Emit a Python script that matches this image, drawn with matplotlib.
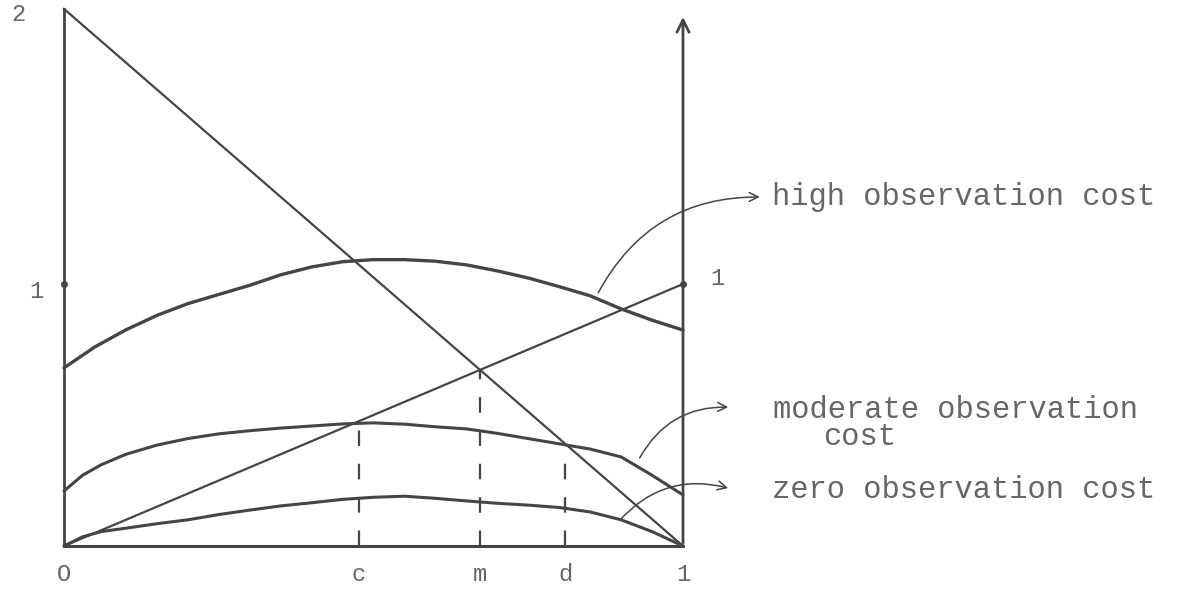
import numpy as np
import matplotlib
matplotlib.use('Agg')
import matplotlib.pyplot as plt

plt.rcParams['font.family'] = ['Liberation Mono', 'DejaVu Sans Mono']

# 曲线数据
x_high = [0.0, 0.05, 0.10, 0.15, 0.20, 0.25, 0.30, 0.35, 0.40, 0.45, 0.50,
          0.55, 0.60, 0.65, 0.70, 0.75, 0.80, 0.85, 0.90, 0.95, 1.0]
y_high = [0.68, 0.76, 0.825, 0.88, 0.925, 0.96, 0.995, 1.035, 1.065, 1.085, 1.093,
          1.093, 1.087, 1.073, 1.05, 1.023, 0.99, 0.955, 0.905, 0.862, 0.824]

x_mod = [0.0, 0.03, 0.06, 0.10, 0.15, 0.20, 0.25, 0.30, 0.35, 0.40, 0.45,
         0.50, 0.55, 0.60, 0.65, 0.70, 0.75, 0.80, 0.85, 0.90, 0.95, 1.0]
y_mod = [0.21, 0.27, 0.31, 0.35, 0.385, 0.41, 0.428, 0.44, 0.45, 0.458, 0.466,
         0.47, 0.465, 0.455, 0.447, 0.43, 0.41, 0.39, 0.37, 0.34, 0.27, 0.195]

x_zero = [0.0, 0.03, 0.06, 0.10, 0.15, 0.20, 0.25, 0.30, 0.35, 0.40, 0.45,
          0.50, 0.55, 0.60, 0.65, 0.70, 0.75, 0.80, 0.85, 0.90, 0.95, 1.0]
y_zero = [0.0, 0.035, 0.055, 0.068, 0.085, 0.10, 0.12, 0.137, 0.153, 0.165, 0.178,
          0.186, 0.19, 0.182, 0.172, 0.163, 0.156, 0.147, 0.13, 0.10, 0.055, 0.0]

x_diag = [0.0, 1.0]
y_diag = [2.05, 0.0]
x_ident = [0.0, 1.0]
y_ident = [0.0, 1.0]

# 虚线位置 c, m, d 及其高度
x_marks = [0.476, 0.672, 0.81]
y_marks = [0.47, 0.672, 0.39]
x_labels = ['c', 'm', 'd']

curve_labels = ['high observation cost', 'moderate observation', 'zero observation cost']

ink = '#454545'
txt = '#666666'

fig = plt.figure(figsize=(11.95, 5.94), dpi=100)
ax = fig.add_axes([0, 0, 1, 1])
ax.set_xlim(-64 / 619, (1195 - 64) / 619)
ax.set_ylim((546 - 594) / 262, 546 / 262)
ax.axis('off')

# 坐标轴
ax.plot([0, 0], [0, 2.05], color=ink, lw=2)
ax.plot([0, 1], [0, 0], color=ink, lw=2.2)
ax.annotate('', xy=(1, 2.03), xytext=(1, 0),
            arrowprops=dict(arrowstyle='->', color=ink, lw=2, mutation_scale=22))

# 直线
ax.plot(x_diag, y_diag, color=ink, lw=1.6)
ax.plot(x_ident, y_ident, color=ink, lw=1.6)

# 三条曲线
ax.plot(x_high, y_high, color=ink, lw=2.4, solid_capstyle='round', solid_joinstyle='round')
ax.plot(x_mod, y_mod, color=ink, lw=2.2, solid_capstyle='round', solid_joinstyle='round')
ax.plot(x_zero, y_zero, color=ink, lw=2.2, solid_capstyle='round', solid_joinstyle='round')

# 虚线
for xm, ym in zip(x_marks, y_marks):
    ax.plot([xm, xm], [0, ym], color=ink, lw=1.6, dashes=(7, 8))

# 点
ax.plot([0, 1], [1, 1], 'o', color=ink, ms=4)

# 坐标标签
ax.text(-0.074, 2.03, '2', fontsize=17, color=txt, ha='center', va='center')
ax.text(-0.044, 0.97, '1', fontsize=17, color=txt, ha='center', va='center')
ax.text(1.055, 1.02, '1', fontsize=17, color=txt, ha='center', va='center')
ax.text(0, -0.11, 'O', fontsize=17, color=txt, ha='center', va='center')
ax.text(1, -0.11, '1', fontsize=17, color=txt, ha='center', va='center')
for xm, lab in zip(x_marks, x_labels):
    ax.text(xm, -0.11, lab, fontsize=17, color=txt, ha='center', va='center')

# 曲线说明和箭头
arrow_kw = dict(arrowstyle='->', color=ink, lw=1.1, mutation_scale=16,
                connectionstyle='arc3,rad=-0.3', shrinkA=0, shrinkB=0)
ax.annotate('', xy=(1.124, 1.332), xytext=(0.863, 0.966), arrowprops=arrow_kw)
ax.annotate('', xy=(1.073, 0.53), xytext=(0.93, 0.336), arrowprops=arrow_kw)
ax.annotate('', xy=(1.073, 0.221), xytext=(0.898, 0.099), arrowprops=arrow_kw)

ax.text(1.144, 1.332, curve_labels[0], fontsize=22, color=txt, va='center')
ax.text(1.146, 0.52, curve_labels[1], fontsize=22, color=txt, va='center')
ax.text(1.226, 0.415, 'cost', fontsize=22, color=txt, va='center')
ax.text(1.144, 0.214, curve_labels[2], fontsize=22, color=txt, va='center')

plt.savefig('out.png', dpi=100)
plt.close()
